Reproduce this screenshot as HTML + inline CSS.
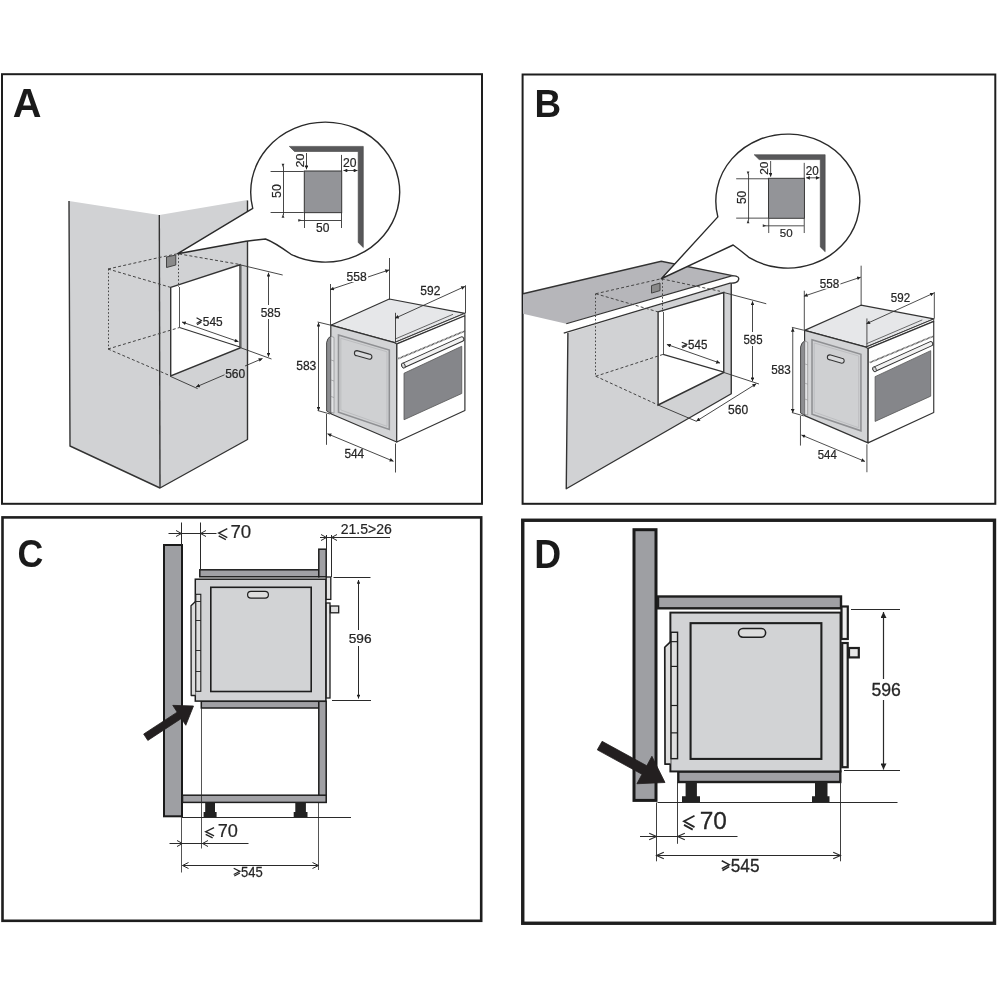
<!DOCTYPE html>
<html><head><meta charset="utf-8"><style>
html,body{margin:0;padding:0;background:#fff;}
svg{display:block;will-change:transform;}
text{font-family:"Liberation Sans",sans-serif;fill:#262626;}
.L{font-weight:bold;fill:#1a1a1a;}
</style></head><body>
<svg width="1000" height="1000" viewBox="0 0 1000 1000">
<defs>
<marker id="ah" viewBox="0 0 10 10" refX="10" refY="5" markerWidth="7.5" markerHeight="3.8" orient="auto-start-reverse" markerUnits="userSpaceOnUse"><path d="M0,0 L10,5 L0,10 z" fill="#222"/></marker>
<marker id="oa" viewBox="0 0 10 10" refX="10" refY="5" markerWidth="8" markerHeight="7" orient="auto-start-reverse" markerUnits="userSpaceOnUse"><path d="M0,0 L10,5 L0,10" fill="none" stroke="#222" stroke-width="1.2"/></marker>

<marker id="ah2" viewBox="0 0 10 10" refX="10" refY="5" markerWidth="9" markerHeight="6" orient="auto-start-reverse" markerUnits="userSpaceOnUse"><path d="M0,0 L10,5 L0,10 z" fill="#222"/></marker>
<!-- Oven 3D (panel A coordinates) -->
<g id="oven3d">
  <!-- top face -->
  <polygon points="330.8,325.2 389.3,299 464.9,313.3 394.6,342.6" fill="#e6e7e9" stroke="#333" stroke-width="1.2" stroke-linejoin="round"/>
  <!-- side face -->
  <polygon points="330.8,325.2 394.6,342.6 396.7,344 396.7,442 330.8,413.7" fill="#d3d4d6" stroke="#333" stroke-width="1.2" stroke-linejoin="round"/>
  <!-- hinge strip -->
  <path d="M331,336 Q327.2,338 326.6,342.5 L326.6,411 L331,413.6 Z" fill="#8d8e91" stroke="#3a3a3a" stroke-width="0.9" stroke-linejoin="round"/>
  <polygon points="331,336.3 334,337.4 334,413.2 331,412.2" fill="#e2e3e5" stroke="#8a8a8c" stroke-width="0.7"/>
  <g stroke="#8a8a8c" stroke-width="0.6"><line x1="331" y1="360" x2="334" y2="361"/><line x1="331" y1="380" x2="334" y2="381"/><line x1="331" y1="396.5" x2="334" y2="397.5"/></g>
  <!-- side inset panel -->
  <polygon points="338.5,335 389.3,350 389.3,429.5 338.5,412.2" fill="#cfd0d2" stroke="#8f9093" stroke-width="1.6"/>
  <polygon points="340.8,338.3 387,351.8 387,426.3 340.8,410" fill="none" stroke="#b8b9bb" stroke-width="0.8"/>
  <!-- side slot -->
  <path d="M357,350.6 L369.3,354.1 A2.6,2.6 0 0 1 369.3,359.3 L357,355.8 A2.6,2.6 0 0 1 357,350.6 Z" fill="#d8d9db" stroke="#333" stroke-width="1.1"/>
  <!-- slab band -->
  <polygon points="394.6,342.6 464.9,313.3 464.9,315.8 396.9,343.9" fill="#f4f4f4" stroke="#333" stroke-width="0.9" stroke-linejoin="round"/>
  <line x1="395.2" y1="339" x2="453" y2="314.3" stroke="#444" stroke-width="0.8"/>
  <!-- front face -->
  <polygon points="396.9,343.9 464.9,315.8 464.9,410.5 396.7,442" fill="#fff" stroke="#333" stroke-width="1.2" stroke-linejoin="round"/>
  <line x1="398.4" y1="358.6" x2="464.9" y2="331" stroke="#4a4a4a" stroke-width="1.7" stroke-dasharray="0.9,0.5"/>
  <!-- handle -->
  <line x1="404" y1="365.2" x2="461.6" y2="339.2" stroke="#333" stroke-width="5.6" stroke-linecap="round"/>
  <line x1="404" y1="365.2" x2="461.6" y2="339.2" stroke="#f2f2f2" stroke-width="3.6" stroke-linecap="round"/>
  <ellipse cx="403.4" cy="365.6" rx="1.7" ry="2.7" fill="#ddd" stroke="#333" stroke-width="0.9" transform="rotate(-20 403.4 365.6)"/>
  <!-- window -->
  <polygon points="404,373.25 461.75,346.25 461.75,393.5 404,419.75" fill="#85868a" stroke="#555" stroke-width="0.8"/>
  <!-- dims -->
  <g stroke="#333" stroke-width="0.9" fill="none">
    <line x1="330.5" y1="284" x2="330.5" y2="325"/>
    <line x1="389.5" y1="258" x2="389.5" y2="299.5"/>
    <line x1="330.1" y1="289.7" x2="389.1" y2="269.9" marker-start="url(#ah)" marker-end="url(#ah)"/>
    <line x1="395.5" y1="312.8" x2="395.5" y2="342"/>
    <line x1="465.5" y1="285.3" x2="465.5" y2="313"/>
    <line x1="395" y1="318.3" x2="465" y2="286.4" marker-start="url(#ah)" marker-end="url(#ah)"/>
    <line x1="317.6" y1="322" x2="330" y2="325"/>
    <line x1="317.6" y1="410.5" x2="330" y2="414"/>
    <line x1="318.5" y1="322.7" x2="318.5" y2="410.7" marker-start="url(#ah)" marker-end="url(#ah)"/>
    <line x1="326.5" y1="414" x2="326.5" y2="444.8"/>
    <line x1="395.5" y1="443.5" x2="395.5" y2="472.5"/>
    <line x1="327.5" y1="433.8" x2="393.5" y2="461.3" marker-start="url(#ah)" marker-end="url(#ah)"/>
  </g>
  <rect x="344" y="270" width="24" height="12" fill="#fff"/>
              <text font-size="12.746" transform="translate(346.439,280.848) scale(0.9534,1)" stroke="#262626" stroke-width="0.25">558</text>
<text font-size="13.169" transform="translate(420.345,295.343) scale(0.9107,1)" stroke="#262626" stroke-width="0.25">592</text>
<text font-size="12.887" transform="translate(296.140,370.146) scale(0.9405,1)" stroke="#262626" stroke-width="0.25">583</text>
<text font-size="13.357" transform="translate(344.451,458.441) scale(0.8867,1)" stroke="#262626" stroke-width="0.25">544</text>
</g>

<!-- Callout content (panel A coords) -->
<g id="callin">
  <polygon points="289.3,146.4 363.3,146.4 363.3,247.5 358.2,242.5 358.2,151.5 294.5,151.5" fill="#58585a" stroke="#444" stroke-width="0.6"/>
  <rect x="304.3" y="171" width="37.4" height="41.65" fill="#939498" stroke="#333" stroke-width="1"/>
  <g stroke="#333" stroke-width="0.9" fill="none">
    <line x1="306.5" y1="153" x2="306.5" y2="169.3" marker-end="url(#ah)"/>
    <line x1="341.5" y1="154.9" x2="341.5" y2="171"/>
    <line x1="343.5" y1="170.5" x2="357.5" y2="170.5" marker-start="url(#ah)" marker-end="url(#ah)"/>
    <line x1="270.6" y1="171.5" x2="303.75" y2="171.5"/>
    <line x1="270.6" y1="212.5" x2="303.75" y2="212.5"/>
    <line x1="283.5" y1="166.25" x2="283.5" y2="215.2"/>
    <line x1="298.65" y1="220.5" x2="341.15" y2="220.5"/>
    <line x1="304.5" y1="212.65" x2="304.5" y2="228"/>
    <line x1="341.5" y1="212.65" x2="341.5" y2="228"/>
  </g>
  <path d="M281.6,163.8 L284.4,163.8 L283,167.5 Z M281.6,217.8 L284.4,217.8 L283,214 Z M298.3,218.9 L298.3,221.7 L302,220.3 Z" fill="#333"/>
<text font-size="10.845" transform="translate(300.050,160.450) rotate(-90) translate(-6.973,3.742) scale(1.1481,1)" stroke="#262626" stroke-width="0.2">20</text>
<text font-size="12.958" transform="translate(343.092,167.070) scale(0.9382,1)" stroke="#262626" stroke-width="0.2">20</text>
<text font-size="12.535" transform="translate(276.550,191.025) rotate(-90) translate(-6.870,4.325) scale(0.9875,1)" stroke="#262626" stroke-width="0.2">50</text>
<text font-size="11.972" transform="translate(316.018,231.880) scale(1.0056,1)" stroke="#262626" stroke-width="0.2">50</text>
</g>

<!-- oven front symbol in C coordinates -->
<g id="ovenfront">
  <rect x="195.3" y="579.2" width="130.6" height="121.9" fill="#d2d3d5" stroke="#1e1e1e" stroke-width="1.5"/>
  <rect x="210.8" y="587.3" width="100.4" height="104.2" fill="#d2d3d5" stroke="#1e1e1e" stroke-width="1.6"/>
  <rect x="247.6" y="591.4" width="20.8" height="6.7" rx="3.35" fill="#ddd" stroke="#1e1e1e" stroke-width="1.2"/>
  <!-- door edge -->
  <path d="M195.5,601.5 L191,605.8 L191.2,695.5 L195.5,695.5" fill="#dcdcdc" stroke="#1e1e1e" stroke-width="1.3" stroke-linejoin="round"/>
  <!-- hinge -->
  <rect x="195.8" y="594.3" width="5" height="97" fill="#dedede" stroke="#1e1e1e" stroke-width="1.1"/>
  <g stroke="#1e1e1e" stroke-width="0.9">
    <line x1="195.8" y1="601.5" x2="200.8" y2="601.5"/>
    <line x1="195.8" y1="620.5" x2="200.8" y2="620.5"/>
    <line x1="195.8" y1="650.5" x2="200.8" y2="650.5"/>
    <line x1="195.8" y1="671.5" x2="200.8" y2="671.5"/>
  </g>
</g>
</defs>

<rect x="0" y="0" width="1000" height="1000" fill="#fff"/>

<!-- ============ PANEL A ============ -->
<rect x="2" y="74.2" width="480" height="429.6" fill="none" stroke="#1e1e1e" stroke-width="2"/>

<!-- cabinet -->
<polygon points="69,201 159.3,215 247.5,200 247.5,439.5 160,488 70,446" fill="#d1d2d4"/>
<polyline points="69,201 70,446 160,488 247.5,439.5 247.5,200.5" fill="none" stroke="#333" stroke-width="1.4" stroke-linejoin="round"/>
<line x1="159.3" y1="215" x2="160" y2="488" stroke="#333" stroke-width="1.4"/>

<!-- opening -->
<polygon points="170.7,287.4 240,264.8 240,348 170.7,376" fill="#fff" stroke="#333" stroke-width="1.4"/>
<line x1="179.5" y1="287" x2="179.5" y2="327.5" stroke="#444" stroke-width="0.9"/>
<line x1="179.5" y1="327.5" x2="240" y2="347" stroke="#333" stroke-width="1.1"/>
<line x1="241.5" y1="265" x2="241.5" y2="348" stroke="#666" stroke-width="0.6"/>
<!-- dashed hidden lines -->
<g stroke="#444" stroke-width="1" fill="none" stroke-dasharray="3,2.2">
  <polyline points="108,269 159.3,257.5 177.7,253.7 240,264.5"/>
  <line x1="108" y1="269" x2="170.7" y2="287.4"/>
  <line x1="108" y1="349" x2="179.5" y2="327.5"/>
  <line x1="108" y1="349" x2="170.7" y2="376"/>
</g>
<g stroke="#444" stroke-width="1" fill="none" stroke-dasharray="1.6,2">
  <line x1="108.5" y1="269" x2="108.5" y2="349"/>
  <line x1="178.5" y1="254" x2="178.5" y2="287"/>
</g>
<!-- vent -->
<polygon points="166.5,257 175.8,255 175.8,265 166.5,267.5" fill="#8a8a8a" stroke="#444" stroke-width="1"/>
<!-- callout A -->
<path d="M177.7,253.7 L252.75,208.4 A74.5,70 0 1 1 291,254.3 Q274,242 265.5,239 L246,241.2 Z" fill="#fff" stroke="#2a2a2a" stroke-width="1.4" stroke-linejoin="round"/>
<use href="#callin"/>
<!-- dims cabinet A -->
<g stroke="#333" stroke-width="0.9" fill="none">
  <line x1="240" y1="264.8" x2="282.7" y2="275"/>
  <line x1="240" y1="347.5" x2="271.5" y2="359"/>
  <line x1="268.5" y1="272.7" x2="268.5" y2="356.7" marker-start="url(#ah)" marker-end="url(#ah)"/>
  <line x1="182" y1="322" x2="238.5" y2="341.7" marker-start="url(#ah)" marker-end="url(#ah)"/>
  <line x1="170.7" y1="376.5" x2="197.6" y2="388.6"/>
  <line x1="196" y1="387" x2="224.5" y2="374.8" marker-start="url(#ah)"/>
  <line x1="245" y1="366" x2="262.5" y2="358.5" marker-end="url(#ah)"/>
</g>
<rect x="258" y="305" width="24" height="14" fill="#fff"/>

<use href="#oven3d"/>

<!-- ============ PANEL B ============ -->
<rect x="522.6" y="74.5" width="472.7" height="429.3" fill="none" stroke="#1e1e1e" stroke-width="2"/>

<!-- cabinet front -->
<polygon points="567.9,333 731.25,283 731.25,393.75 566.25,488.75" fill="#d1d2d4"/>
<polyline points="567.9,333 566.25,488.75 731.25,393.75 731.25,283" fill="none" stroke="#333" stroke-width="1.4" stroke-linejoin="round"/>
<!-- countertop -->
<polygon points="523,293.75 661.25,261.25 732.5,275.6 566.25,323.75 523,313.75" fill="#b6b6ba" stroke="none"/>
<path d="M523,293.75 L661.25,261.25 L732.5,275.6" fill="none" stroke="#333" stroke-width="1.3"/>
<path d="M566.25,323.75 L732.5,275.6 Q741,276 738,281 Q736,283.5 730,283.1 L563.75,333.1" fill="#fff" stroke="#333" stroke-width="1.3"/>
<!-- opening -->
<polygon points="658.1,311.9 723.75,292.5 723.75,372.5 658.1,405" fill="#fff" stroke="#333" stroke-width="1.4"/>
<line x1="663.5" y1="311.9" x2="663.5" y2="354.4" stroke="#444" stroke-width="0.9"/>
<line x1="663.1" y1="354.4" x2="723.1" y2="371.9" stroke="#333" stroke-width="1.1"/>
<g stroke="#444" stroke-width="1" fill="none" stroke-dasharray="3,2.2">
  <polyline points="595.75,293.75 661.25,278.75 720,291.25"/>
  <line x1="595.75" y1="293.75" x2="658.1" y2="311.9"/>
  <line x1="595.75" y1="376.25" x2="663.1" y2="354.4"/>
  <line x1="595.75" y1="376.25" x2="658.1" y2="405"/>
</g>
<g stroke="#444" stroke-width="1" fill="none" stroke-dasharray="1.6,2">
  <line x1="595.5" y1="293.75" x2="595.5" y2="376.25"/>
  <line x1="662.5" y1="279" x2="662.5" y2="311.9"/>
</g>
<polygon points="651.5,285.6 660,283 660,290.6 651.5,293.1" fill="#8a8a8a" stroke="#444" stroke-width="1"/>
<!-- callout B -->
<path d="M661.25,278.75 L717.85,216.9 A72,67 0 1 1 749.3,257.7 Q740,250 733.15,245 Z" fill="#fff" stroke="#2a2a2a" stroke-width="1.4" stroke-linejoin="round"/>
<use href="#callin" transform="translate(476.4,14.14) scale(0.96)"/>
<!-- dims cabinet B -->
<g stroke="#333" stroke-width="0.9" fill="none">
  <line x1="723.75" y1="292.5" x2="766.25" y2="303.75"/>
  <line x1="724" y1="372.5" x2="759" y2="384"/>
  <line x1="752.5" y1="301.25" x2="752.5" y2="381.25" marker-start="url(#ah)" marker-end="url(#ah)"/>
  <line x1="666.9" y1="344.4" x2="720" y2="363.1" marker-start="url(#ah)" marker-end="url(#ah)"/>
  <line x1="658.1" y1="405" x2="696.25" y2="421.25"/>
  <line x1="696.25" y1="421.25" x2="756.25" y2="383.75" marker-start="url(#ah)" marker-end="url(#ah)"/>
</g>
<rect x="740" y="332" width="25" height="14" fill="#fff"/>

<use href="#oven3d" transform="translate(486.04,17.23) scale(0.963)"/>

<!-- ============ PANEL C ============ -->
<rect x="2.5" y="517.4" width="478.7" height="403.4" fill="none" stroke="#1e1e1e" stroke-width="2.6"/>


<!-- wall C -->
<rect x="164" y="545" width="18" height="271.3" fill="#9e9fa3" stroke="#1a1a1a" stroke-width="2"/>
<!-- top trim + post -->
<rect x="199.8" y="569.8" width="119" height="7" fill="#a0a0a4" stroke="#1e1e1e" stroke-width="1.5"/>
<rect x="318.8" y="549.2" width="7.4" height="27.6" fill="#a0a0a4" stroke="#1e1e1e" stroke-width="1.5"/>
<!-- bottom strip, post, shelf -->
<rect x="201.3" y="701.3" width="117.5" height="6.7" fill="#a0a0a4" stroke="#1e1e1e" stroke-width="1.5"/>
<rect x="318.8" y="701.3" width="7.4" height="101" fill="#a0a0a4" stroke="#1e1e1e" stroke-width="1.5"/>
<rect x="182.5" y="795.2" width="143.7" height="7.2" fill="#a2a2a6" stroke="#1e1e1e" stroke-width="1.5"/>
<!-- feet -->
<path d="M205.2,802.4 h9.8 v9.6 h1.6 v5 h-13 v-5 h1.6 z" fill="#222"/>
<path d="M295.3,802.4 h10.6 v9.6 h1.6 v5 h-13.8 v-5 h1.6 z" fill="#222"/>
<use href="#ovenfront"/>
<!-- right controls C -->
<rect x="326.2" y="577" width="4.6" height="22.4" fill="#e6e6e6" stroke="#1e1e1e" stroke-width="1.3"/>
<rect x="326.2" y="603" width="3.8" height="95" fill="#e6e6e6" stroke="#1e1e1e" stroke-width="1.3"/>
<rect x="330.4" y="606" width="8.3" height="6.8" fill="#e0e0e0" stroke="#1e1e1e" stroke-width="1.3"/>
<!-- arrow C -->
<polygon points="193.5,706 185.8,725.27 181.36,718.49 147.83,740.43 143.67,734.07 177.2,712.13 172.76,705.35" fill="#231f20" stroke="#231f20" stroke-width="0.8" stroke-linejoin="round"/>
<!-- dims C -->
<g stroke="#2a2a2a" stroke-width="1" fill="none">
  <line x1="181.5" y1="522.5" x2="181.5" y2="545"/>
  <line x1="200.5" y1="522.5" x2="200.5" y2="569.5"/>
  <line x1="168.5" y1="533.5" x2="216.5" y2="533.5"/>
  <polyline points="176,530.5 181.5,533.5 176,536.5"/>
  <polyline points="206,530.5 200.5,533.5 206,536.5"/>
  <line x1="326.5" y1="535" x2="326.5" y2="549"/>
  <line x1="331.5" y1="535" x2="331.5" y2="577"/>
  <line x1="320" y1="537.5" x2="390" y2="537.5"/>
  <polyline points="321,534.5 326.5,537.5 321,540.5"/>
  <polyline points="337,534.5 331.5,537.5 337,540.5"/>
  <line x1="333.5" y1="577.5" x2="370.5" y2="577.5"/>
  <line x1="332" y1="700.5" x2="371" y2="700.5"/>
  <line x1="358.5" y1="580" x2="358.5" y2="698.5" marker-start="url(#ah)" marker-end="url(#ah)"/>
  <line x1="201.5" y1="708" x2="201.5" y2="848.5" stroke-width="0.8"/>
  <line x1="182" y1="817.5" x2="351" y2="817.5"/>
  <line x1="181.5" y1="817" x2="181.5" y2="872.5" stroke-width="0.8"/>
  <line x1="318.5" y1="802.5" x2="318.5" y2="870" stroke-width="0.8"/>
  <line x1="169.5" y1="843.5" x2="248.5" y2="843.5"/>
  <polyline points="177,840.5 182.5,843.5 177,846.5"/>
  <polyline points="208,840.5 202.5,843.5 208,846.5"/>
  <line x1="182.5" y1="865.5" x2="318.5" y2="865.5"/>
  <polyline points="188.5,862.5 182.5,865.5 188.5,868.5"/>
  <polyline points="312.5,862.5 318.5,865.5 312.5,868.5"/>
</g>
<rect x="347" y="630" width="26" height="16" fill="#fff"/>

<!-- ============ PANEL D ============ -->
<rect x="522.75" y="520.25" width="471.75" height="403" fill="none" stroke="#1e1e1e" stroke-width="3.4"/>
<!-- wall D -->
<rect x="634" y="529.7" width="22" height="270.7" fill="#9e9fa3" stroke="#1a1a1a" stroke-width="3"/>
<rect x="658" y="596.5" width="183" height="11.8" fill="#a0a0a4" stroke="#1e1e1e" stroke-width="2.4"/>
<rect x="678.3" y="771.5" width="162" height="10.5" fill="#a0a0a4" stroke="#1e1e1e" stroke-width="2.4"/>
<path d="M685.6,782 h11.3 v14.2 h3.1 v6 h-18 v-6 h3.6 z" fill="#222"/>
<path d="M815,782 h12.5 v14.2 h2 v6 h-17.5 v-6 h3 z" fill="#222"/>
<use href="#ovenfront" transform="translate(415.9,-142.1) scale(1.303)"/>
<rect x="841.5" y="606.5" width="6.3" height="32.5" fill="#eee" stroke="#1e1e1e" stroke-width="2.2"/>
<rect x="842.2" y="643" width="5.5" height="124.2" fill="#eee" stroke="#1e1e1e" stroke-width="2.2"/>
<rect x="849" y="648" width="9.8" height="9.4" fill="#e6e6e6" stroke="#1e1e1e" stroke-width="2.2"/>
<polygon points="665,782.5 636.9,783.75 642,774.27 597.29,749.87 602.11,741.33 646.8,765.73 651.9,756.25" fill="#231f20" stroke="#231f20" stroke-width="0.8" stroke-linejoin="round"/>
<g stroke="#2a2a2a" stroke-width="1.1" fill="none">
  <line x1="657.5" y1="802.5" x2="897.5" y2="802.5"/>
  <line x1="656.5" y1="802.5" x2="656.5" y2="861.3" stroke-width="0.9"/>
  <line x1="677.5" y1="782" x2="677.5" y2="843.8" stroke-width="0.9"/>
  <line x1="840.5" y1="782" x2="840.5" y2="861.3" stroke-width="0.9"/>
  <line x1="640" y1="836.5" x2="737.5" y2="836.5"/>
  <polyline points="649.2,833.2 656.5,836.5 649.2,839.8"/>
  <polyline points="684.8,833.2 677.5,836.5 684.8,839.8"/>
  <line x1="656.5" y1="855.5" x2="840.5" y2="855.5"/>
  <polyline points="663.8,852.2 656.5,855.5 663.8,858.8"/>
  <polyline points="833.2,852.2 840.5,855.5 833.2,858.8"/>
  <line x1="851" y1="609.5" x2="900" y2="609.5"/>
  <line x1="844" y1="770.5" x2="900" y2="770.5"/>
  <line x1="883.5" y1="612" x2="883.5" y2="769.5" stroke-width="1.2" marker-start="url(#ah2)" marker-end="url(#ah2)"/>
</g>
<rect x="868" y="679" width="33" height="21" fill="#fff"/>
<text font-size="12.465" transform="translate(260.751,316.750) scale(0.9511,1)" stroke="#262626" stroke-width="0.25">585</text>
<text font-size="12.500" transform="translate(202.848,325.550) scale(0.9535,1)" stroke="#262626" stroke-width="0.25">545</text>
<text font-size="12.113" transform="translate(225.194,377.654) scale(0.9917,1)" stroke="#262626" stroke-width="0.25">560</text>
<text font-size="13.169" transform="translate(743.417,344.393) scale(0.8692,1)" stroke="#262626" stroke-width="0.25">585</text>
<text font-size="12.214" transform="translate(688.063,348.553) scale(0.9449,1)" stroke="#262626" stroke-width="0.25">545</text>
<text font-size="12.324" transform="translate(728.043,413.752) scale(0.9773,1)" stroke="#262626" stroke-width="0.25">560</text>
<text class="L" font-size="40.074" transform="translate(12.807,117.401) scale(0.9925,1)">A</text>
<text class="L" font-size="39.493" transform="translate(534.418,117.000) scale(0.9340,1)">B</text>
<text class="L" font-size="38.732" transform="translate(17.569,567.363) scale(0.9235,1)">C</text>
<text class="L" font-size="39.855" transform="translate(534.139,567.750) scale(0.9358,1)">D</text>
<text font-size="18.380" transform="translate(230.416,538.466) scale(1.0161,1)" stroke="#262626" stroke-width="0.2">70</text>
<text font-size="14.085" transform="translate(340.697,533.659) scale(0.9980,1)" stroke="#262626" stroke-width="0.2">21.5&gt;26</text>
<text font-size="13.662" transform="translate(348.677,642.738) scale(1.0030,1)" stroke="#262626" stroke-width="0.25">596</text>
<text font-size="18.028" transform="translate(217.691,837.470) scale(1.0088,1)" stroke="#262626" stroke-width="0.2">70</text>
<text font-size="13.786" transform="translate(241.004,876.637) scale(0.9444,1)" stroke="#262626" stroke-width="0.25">545</text>
<text font-size="17.887" transform="translate(871.444,695.671) scale(0.9872,1)" stroke="#262626" stroke-width="0.3">596</text>
<text font-size="24.155" transform="translate(699.702,828.633) scale(1.0127,1)" stroke="#262626" stroke-width="0.25">70</text>
<text font-size="17.786" transform="translate(730.709,871.672) scale(0.9707,1)" stroke="#262626" stroke-width="0.3">545</text>
<path d="M196.55,317.75 L201.45,320.59 L196.55,323.43 M197.04,324.85 L201.45,322.01" fill="none" stroke="#262626" stroke-width="1.1" stroke-linecap="butt" stroke-linejoin="miter"/>
<path d="M681.75,342.15 L686.85,344.35 L681.75,346.55 M682.26,347.65 L686.85,345.45" fill="none" stroke="#262626" stroke-width="1.1" stroke-linecap="butt" stroke-linejoin="miter"/>
<path d="M227.30,528.70 L218.70,533.04 L227.30,537.60 M218.70,535.86 L225.84,539.55" fill="none" stroke="#262626" stroke-width="1.4" stroke-linecap="butt" stroke-linejoin="miter"/>
<path d="M214.05,827.70 L205.70,831.74 L214.05,835.98 M205.70,834.37 L212.63,837.80" fill="none" stroke="#262626" stroke-width="1.4" stroke-linecap="butt" stroke-linejoin="miter"/>
<path d="M233.70,868.25 L239.90,871.37 L233.70,874.49 M234.32,876.05 L239.90,872.93" fill="none" stroke="#262626" stroke-width="1.2" stroke-linecap="butt" stroke-linejoin="miter"/>
<path d="M694.50,815.80 L684.00,821.32 L694.50,827.12 M684.00,824.91 L692.72,829.60" fill="none" stroke="#262626" stroke-width="1.8" stroke-linecap="butt" stroke-linejoin="miter"/>
<path d="M721.75,860.75 L729.25,864.65 L721.75,868.55 M722.50,870.50 L729.25,866.60" fill="none" stroke="#262626" stroke-width="1.5" stroke-linecap="butt" stroke-linejoin="miter"/>
</svg>
</body></html>
